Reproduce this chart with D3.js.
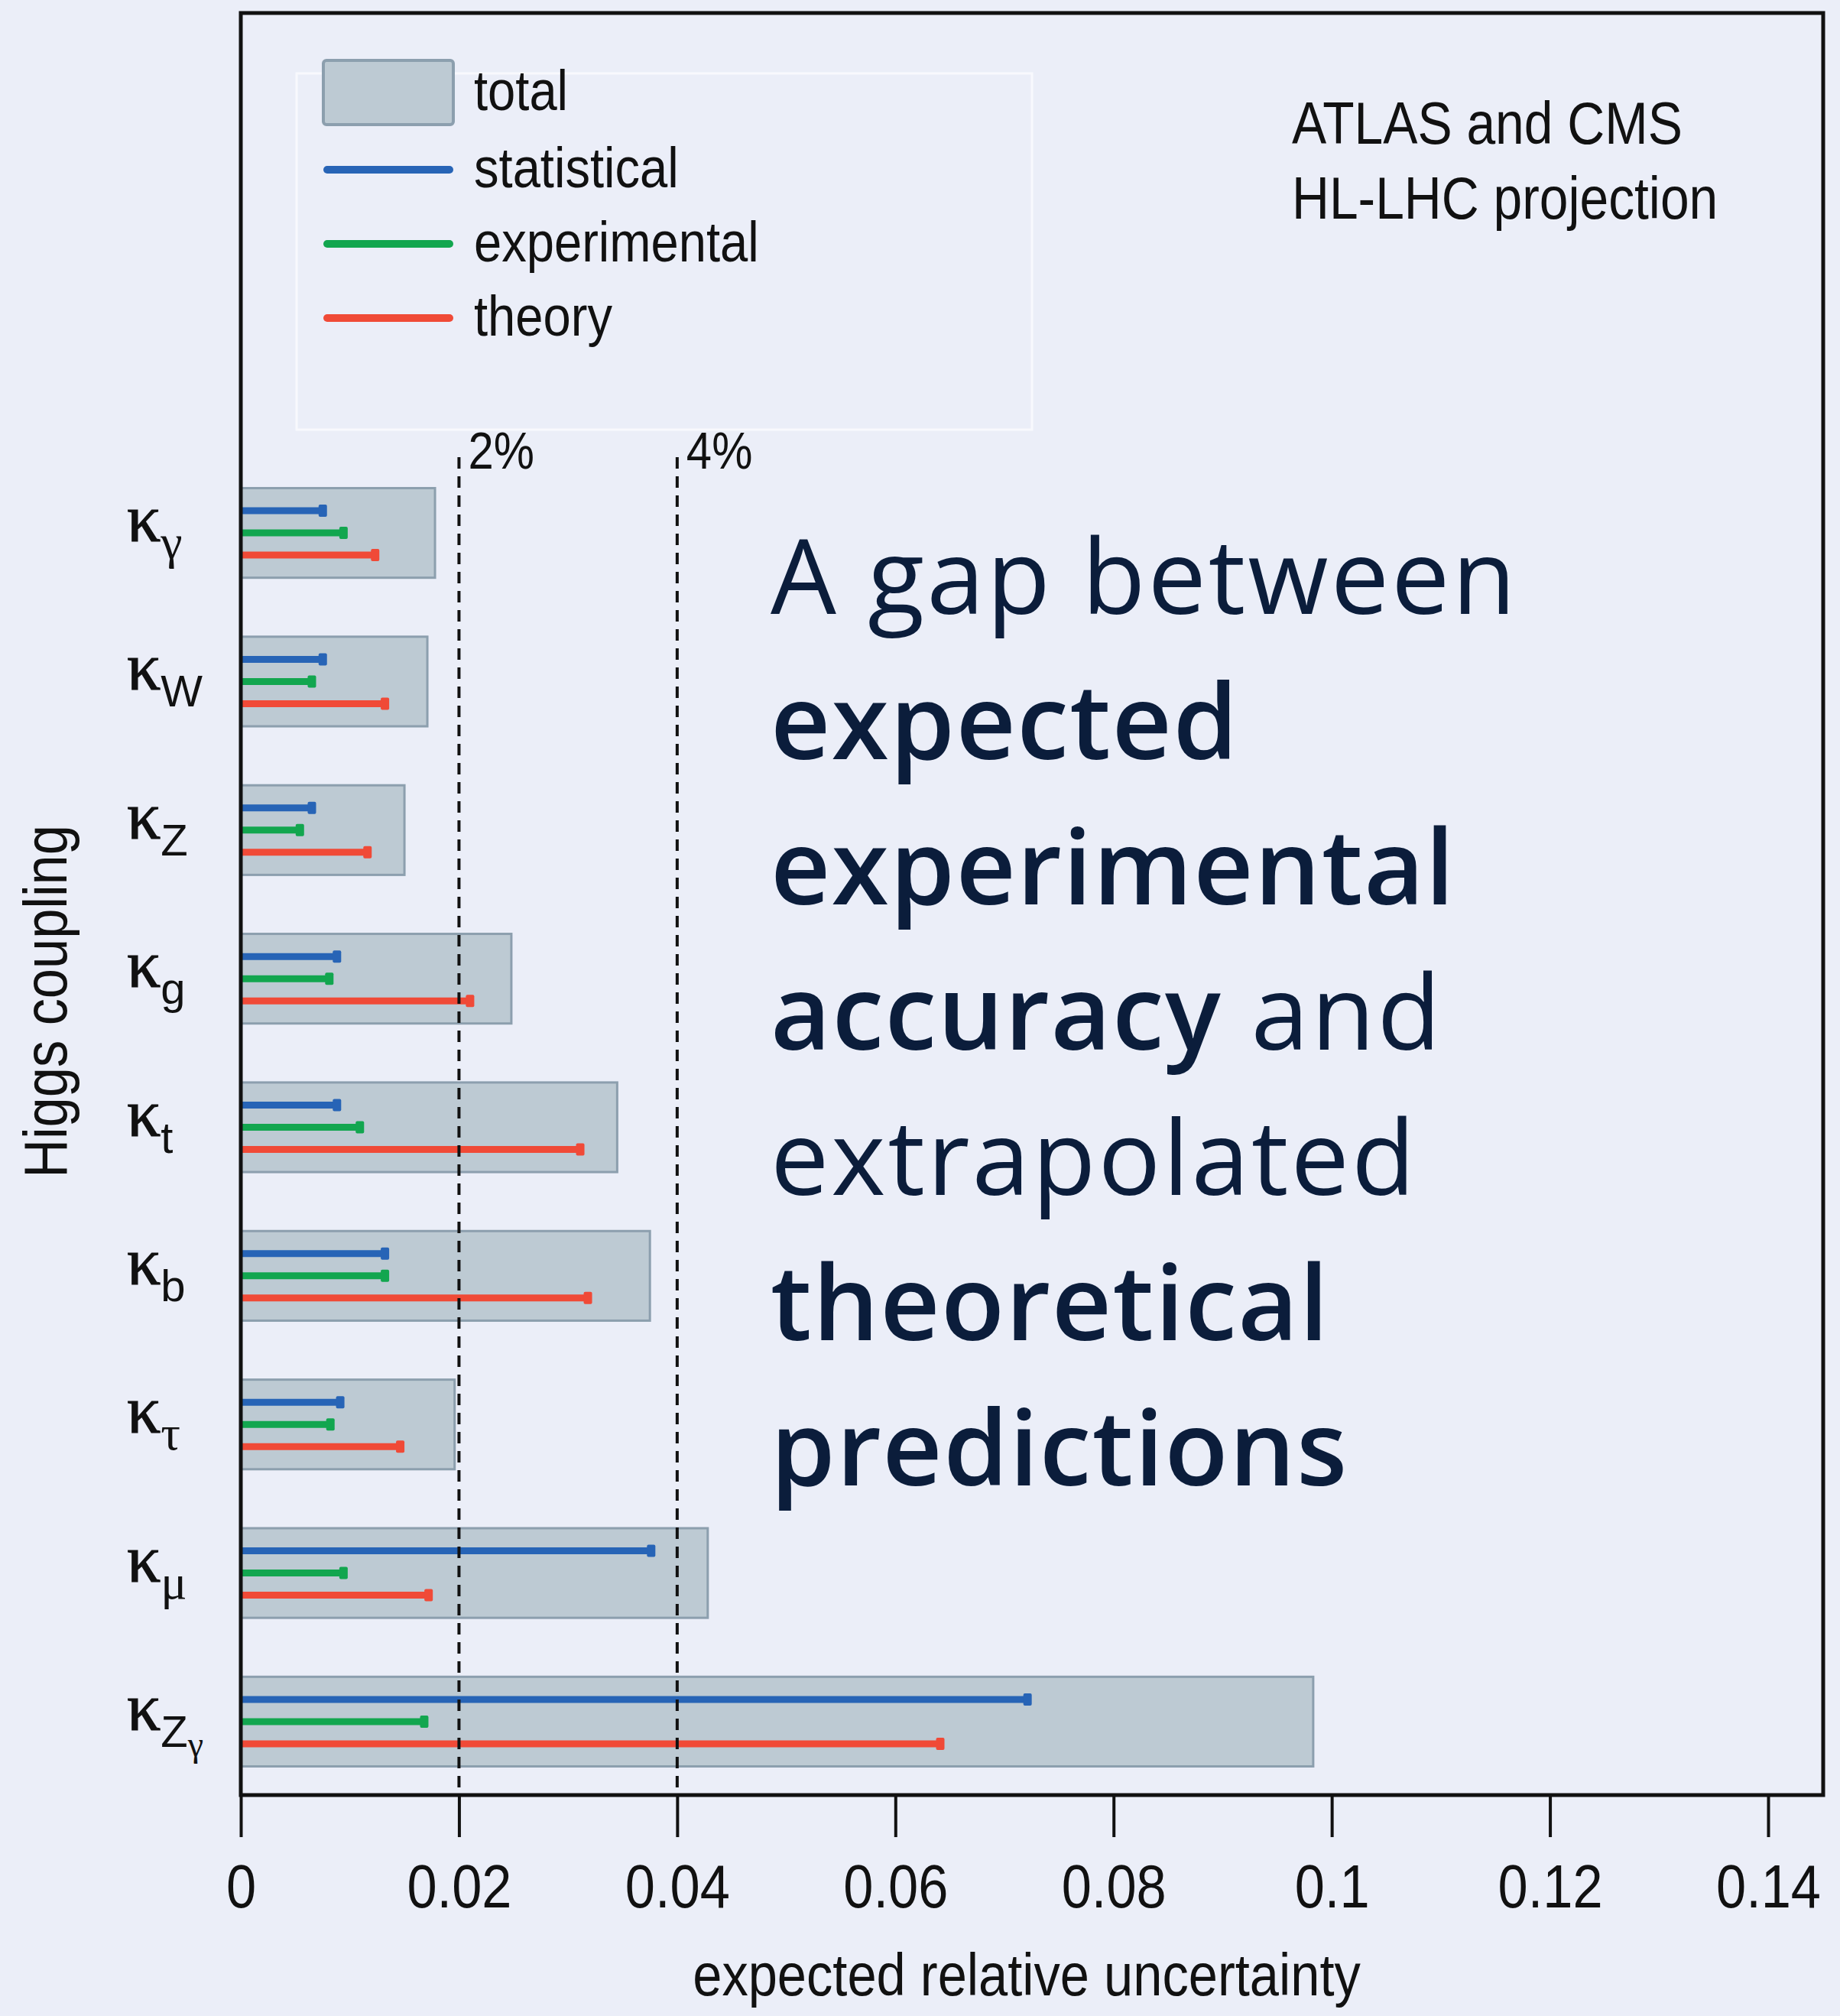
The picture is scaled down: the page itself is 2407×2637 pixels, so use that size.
<!DOCTYPE html>
<html>
<head>
<meta charset="utf-8">
<script src="https://cdn.jsdelivr.net/npm/d3@7"></script>
<style>
  html, body { margin: 0; padding: 0; background: #ebeef8; }
  svg { display: block; }
</style>
</head>
<body>
<svg id="chart"></svg>
<script>
// ---- data ----
const couplings   = ["γ", "W", "Z", "g", "t", "b", "τ", "μ", "Zγ"];
const totalUnc    = [0.0178, 0.0171, 0.0150, 0.0248, 0.0345, 0.0375, 0.0196, 0.0428, 0.0983];
const statUnc     = [0.0079, 0.0079, 0.0069, 0.0092, 0.0092, 0.0136, 0.0095, 0.0380, 0.0725];
const expUnc      = [0.0098, 0.0069, 0.0058, 0.0085, 0.0113, 0.0136, 0.0086, 0.0098, 0.0172];
const theoryUnc   = [0.0127, 0.0136, 0.0120, 0.0214, 0.0315, 0.0322, 0.0150, 0.0176, 0.0645];
const xTicks      = [0, 0.02, 0.04, 0.06, 0.08, 0.10, 0.12, 0.14];
const refLines    = [0.02, 0.04];
const refLabels   = ["2%", "4%"];
const seriesNames = ["statistical", "experimental", "theory"];
const seriesColors = ["#2764b6", "#12a64f", "#f04a37"];

const W = 2407, H = 2637;
const SANS = "'Liberation Sans', Arial, sans-serif";
const SERIF = "'Liberation Serif', 'Times New Roman', serif";
const CONDENSE = 0.88;
const barFill = "#bdcad3", barStroke = "#8c9fae";
const ink = "#111";

const frame = { left: 315, top: 17, right: 2385, bottom: 2348 };

const svg = d3.select("#chart").attr("width", W).attr("height", H);
svg.append("rect").attr("width", W).attr("height", H).attr("fill", "#ebeef8");

// ---- scales ----
const x = d3.scaleLinear()
    .domain([0, 0.14])
    .range([frame.left, 2313]);

const y = d3.scaleBand()
    .domain(couplings)
    .range([607, 2342])
    .paddingInner(0.397)
    .paddingOuter(0.162);

const sub = d3.scalePoint()
    .domain(seriesNames)
    .range([-29, 29]);

function ctext(g, px, py, str, size, anchor) {
    return g.append("text")
        .attr("transform", `translate(${px},${py}) scale(${CONDENSE},1)`)
        .attr("text-anchor", anchor || "start")
        .attr("font-family", SANS)
        .attr("font-size", size)
        .attr("fill", ink)
        .text(str);
}

const rows = couplings.map((c, i) => ({
    name: c,
    total: totalUnc[i],
    vals: [statUnc[i], expUnc[i], theoryUnc[i]]
}));

// ---- total bars ----
svg.append("g").selectAll("rect")
    .data(rows)
    .join("rect")
    .attr("x", x(0))
    .attr("y", d => y(d.name))
    .attr("width", d => x(d.total) - x(0))
    .attr("height", y.bandwidth())
    .attr("fill", barFill)
    .attr("stroke", barStroke)
    .attr("stroke-width", 3);

// ---- component lines ----
const comp = svg.append("g").selectAll("g")
    .data(rows.flatMap(r => r.vals.map((v, k) => ({ name: r.name, v, k }))))
    .join("g");

comp.append("line")
    .attr("x1", x(0))
    .attr("x2", d => x(d.v) - 4)
    .attr("y1", d => y(d.name) + y.bandwidth() / 2 + sub(seriesNames[d.k]))
    .attr("y2", d => y(d.name) + y.bandwidth() / 2 + sub(seriesNames[d.k]))
    .attr("stroke", d => seriesColors[d.k])
    .attr("stroke-width", 9);

comp.append("rect")
    .attr("x", d => x(d.v) - 11)
    .attr("y", d => y(d.name) + y.bandwidth() / 2 + sub(seriesNames[d.k]) - 8)
    .attr("width", 11)
    .attr("height", 16)
    .attr("rx", 2)
    .attr("fill", d => seriesColors[d.k]);

// ---- 2% / 4% reference lines ----
const refs = svg.append("g");
refs.selectAll("line")
    .data(refLines)
    .join("line")
    .attr("x1", d => x(d)).attr("x2", d => x(d))
    .attr("y1", 598).attr("y2", frame.bottom)
    .attr("stroke", ink)
    .attr("stroke-width", 4)
    .attr("stroke-dasharray", "15,10");
refLines.forEach((v, i) => ctext(refs, x(v) + 12, 613, refLabels[i], 68));

// ---- frame ----
svg.append("rect")
    .attr("x", frame.left).attr("y", frame.top)
    .attr("width", frame.right - frame.left)
    .attr("height", frame.bottom - frame.top)
    .attr("fill", "none")
    .attr("stroke", ink)
    .attr("stroke-width", 5);

// ---- x axis ----
const xAxis = svg.append("g")
    .attr("transform", `translate(0,${frame.bottom})`)
    .call(d3.axisBottom(x)
        .tickValues(xTicks)
        .tickSize(55)
        .tickPadding(92)
        .tickFormat(d => String(+d.toFixed(2))));
xAxis.select(".domain").remove();
xAxis.selectAll(".tick line").attr("stroke", ink).attr("stroke-width", 4);
xAxis.selectAll(".tick text")
    .attr("font-family", SANS)
    .attr("font-size", 80)
    .attr("fill", ink)
    .attr("dy", 0)
    .attr("transform", `scale(${CONDENSE},1)`);

ctext(svg, 1343, 2610, "expected relative uncertainty", 78, "middle");

// y axis title
svg.append("text")
    .attr("transform", `translate(87,1310) rotate(-90) scale(${CONDENSE},1)`)
    .attr("text-anchor", "middle")
    .attr("font-family", SANS)
    .attr("font-size", 80)
    .attr("fill", ink)
    .text("Higgs coupling");

// ---- category labels (kappa with subscripts) ----
const greek = /[γτμ]/;
const lab = svg.append("g").selectAll("text")
    .data(rows)
    .join("text")
    .attr("x", 166)
    .attr("y", d => y(d.name) + y.bandwidth() / 2 + 11)
    .attr("font-family", SERIF)
    .attr("font-size", 88)
    .attr("fill", ink);
lab.append("tspan").text("κ").attr("stroke", ink).attr("stroke-width", 1.2);
lab.each(function (d) {
    const t = d3.select(this);
    const first = d.name[0];
    t.append("tspan")
        .attr("dy", 22)
        .attr("font-family", greek.test(first) ? SERIF : SANS)
        .attr("font-size", greek.test(first) ? 64 : 58)
        .text(first);
    if (d.name.length > 1) {
        t.append("tspan")
            .attr("dy", 12)
            .attr("font-family", SERIF)
            .attr("font-size", 46)
            .text(d.name.slice(1));
    }
});

// ---- legend ----
const legend = svg.append("g");
legend.append("rect")
    .attr("x", 388).attr("y", 96).attr("width", 962).attr("height", 466)
    .attr("fill", "none").attr("stroke", "#f8f9fd").attr("stroke-width", 3);
legend.append("rect")
    .attr("x", 423).attr("y", 79).attr("width", 170).attr("height", 84).attr("rx", 4)
    .attr("fill", barFill).attr("stroke", barStroke).attr("stroke-width", 4);
ctext(legend, 620, 144, "total", 74);

const legendY = d3.scalePoint().domain(seriesNames).range([222, 416]);
seriesNames.forEach((s, k) => {
    legend.append("line")
        .attr("x1", 428).attr("x2", 588)
        .attr("y1", legendY(s)).attr("y2", legendY(s))
        .attr("stroke", seriesColors[k])
        .attr("stroke-width", 10)
        .attr("stroke-linecap", "round");
    ctext(legend, 620, legendY(s) + 23, s, 74);
});

// ---- top-right note ----
ctext(svg, 1690, 188, "ATLAS and CMS", 77);
ctext(svg, 1690, 286, "HL-LHC projection", 77);

// ---- overlay headline ----
const headline = [
    [["A gap between", false]],
    [["expected", true]],
    [["experimental", true]],
    [["accuracy", true], [" and", false]],
    [["extrapolated", false]],
    [["theoretical", true]],
    [["predictions", true]]
];
const head = svg.append("text")
    .attr("font-family", "'Open Sans', 'Noto Sans', sans-serif")
    .attr("font-size", 136)
    .attr("fill", "#0b1d3b");
headline.forEach((parts, i) => {
    parts.forEach((p, j) => {
        const ts = head.append("tspan")
            .attr("font-weight", p[1] ? 600 : 400)
            .attr("letter-spacing", p[1] ? 1.5 : 3)
            .style("white-space", "pre")
            .text(p[0]);
        if (j === 0) ts.attr("x", 1008).attr("y", 803 + i * 190);
    });
});
</script>
</body>
</html>
